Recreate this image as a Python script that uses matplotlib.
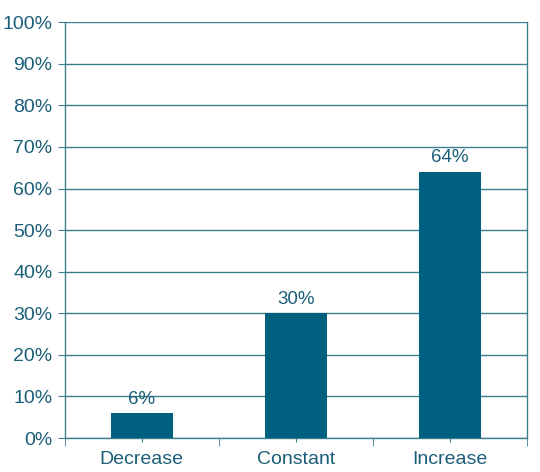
import numpy as np
import matplotlib.pyplot as plt
from matplotlib.ticker import FixedLocator, PercentFormatter

plt.rcParams['font.family'] = ['Liberation Sans', 'DejaVu Sans']

categories = ['Decrease', 'Constant', 'Increase']
shares = [6, 30, 64]
y_ticks = list(range(0, 101, 10))

bar_color = '#006080'
text_color = '#1b5e78'
line_color = '#3d7f8f'

fig = plt.figure(figsize=(5.4, 4.72), dpi=100)
ax = fig.add_axes([0.120, 0.072, 0.856, 0.881])

x = np.arange(len(categories))
bars = ax.bar(x, shares, width=0.4, color=bar_color, zorder=3)
for xi, v in zip(x, shares):
    ax.text(xi, v + 1.3, f'{v}%', ha='center', va='bottom', fontsize=13.5, color=text_color)

ax.set_xlim(-0.5, len(categories) - 0.5)
ax.set_ylim(0, 100)
ax.set_yticks(y_ticks)
ax.yaxis.set_major_formatter(PercentFormatter(decimals=0))
ax.grid(axis='y', color=line_color, linewidth=1.0, zorder=0)

ax.set_xticks(x)
ax.set_xticklabels(categories)
ax.xaxis.set_minor_locator(FixedLocator(np.arange(-0.5, len(categories), 1.0)))
ax.tick_params(axis='x', which='major', length=3, color=line_color, labelsize=14,
               labelcolor=text_color, pad=6)
ax.tick_params(axis='x', which='minor', length=6, color=line_color, direction='out')
ax.tick_params(axis='y', length=5, color=line_color, labelsize=14, labelcolor=text_color, pad=4)

for side in ['left', 'bottom', 'right']:
    ax.spines[side].set_color(line_color)
    ax.spines[side].set_linewidth(1.0)
ax.spines['top'].set_visible(False)

fig.savefig('out.png', dpi=100)
